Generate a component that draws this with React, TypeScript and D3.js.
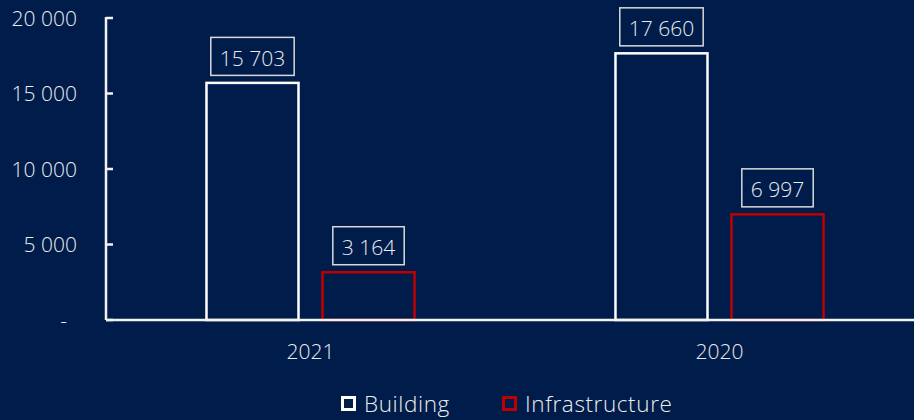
import React, { useEffect, useRef } from "react";
import * as d3 from "d3";

const categories = ["2021", "2020"];
const seriesNames = ["Building", "Infrastructure"];
const buildingValues = [15703, 17660];
const infrastructureValues = [3164, 6997];
const yTicks = [0, 5000, 10000, 15000, 20000];

const W = 914;
const H = 420;
const BG = "#001c4a";
const TEXT = "#ececec";
const COLORS: Record<string, string> = { Building: "#ffffff", Infrastructure: "#c00000" };
const FONT = "'Open Sans', sans-serif";

const fmt = (v: number) => (v === 0 ? "-" : d3.format(",")(v).replace(/,/g, " "));

export default function App() {
  const ref = useRef<SVGSVGElement | null>(null);

  useEffect(() => {
    document.body.style.margin = "0";
    document.body.style.background = BG;
    const svg = d3.select(ref.current!);
    svg.selectAll("*").remove();

    const axisX = 106;
    const y = d3.scaleLinear().domain([0, 20000]).range([320, 18]);
    const x0 = d3.scaleBand<string>().domain(categories).range([axisX, axisX + 818]).padding(0);
    const x1 = d3
      .scaleBand<string>()
      .domain(seriesNames)
      .range([0, x0.bandwidth()])
      .paddingInner(0.2069)
      .paddingOuter(0.866);

    svg.append("rect").attr("width", W).attr("height", H).attr("fill", BG);

    const data = categories.flatMap((c, i) => [
      { cat: c, s: "Building", v: buildingValues[i] },
      { cat: c, s: "Infrastructure", v: infrastructureValues[i] },
    ]);

    // bars
    svg
      .append("g")
      .selectAll("rect")
      .data(data)
      .join("rect")
      .attr("x", (d) => x0(d.cat)! + x1(d.s)!)
      .attr("y", (d) => y(d.v))
      .attr("width", x1.bandwidth())
      .attr("height", (d) => y(0) - y(d.v))
      .attr("fill", "none")
      .attr("stroke", (d) => COLORS[d.s])
      .attr("stroke-width", 2.5);

    // axes
    const ax = svg.append("g").attr("stroke", "#f2f2f2").attr("stroke-width", 2.5);
    ax.append("line").attr("x1", axisX).attr("x2", axisX).attr("y1", y(20000) - 1).attr("y2", y(0));
    ax.append("line").attr("x1", axisX).attr("x2", W).attr("y1", y(0)).attr("y2", y(0));
    ax.selectAll("line.tick")
      .data(yTicks)
      .join("line")
      .attr("class", "tick")
      .attr("x1", axisX)
      .attr("x2", axisX + 7)
      .attr("y1", (d) => y(d))
      .attr("y2", (d) => y(d));

    // y tick labels
    svg
      .append("g")
      .selectAll("text")
      .data(yTicks)
      .join("text")
      .attr("x", (d) => (d === 0 ? 67 : 77))
      .attr("y", (d) => y(d) + 7.5)
      .attr("text-anchor", "end")
      .attr("fill", TEXT)
      .attr("font-family", FONT)
      .attr("font-weight", 300)
      .attr("font-size", 21)
      .text((d) => fmt(d));

    // category labels
    svg
      .append("g")
      .selectAll("text")
      .data(categories)
      .join("text")
      .attr("x", (d) => x0(d)! + x0.bandwidth() / 2)
      .attr("y", 359)
      .attr("text-anchor", "middle")
      .attr("fill", TEXT)
      .attr("font-family", FONT)
      .attr("font-weight", 300)
      .attr("font-size", 21)
      .text((d) => d);

    // value labels with boxes
    const lg = svg.append("g");
    data.forEach((d) => {
      const cx = x0(d.cat)! + x1(d.s)! + x1.bandwidth() / 2;
      const top = y(d.v);
      const g = lg.append("g");
      const rect = g.append("rect");
      const t = g
        .append("text")
        .attr("x", cx)
        .attr("y", top - 17)
        .attr("text-anchor", "middle")
        .attr("fill", TEXT)
        .attr("font-family", FONT)
        .attr("font-weight", 300)
        .attr("font-size", 21)
        .text(fmt(d.v));
      const w = (t.node() as SVGTextElement).getComputedTextLength() + 18;
      rect
        .attr("x", cx - w / 2)
        .attr("y", top - 45.5)
        .attr("width", w)
        .attr("height", 38)
        .attr("fill", "none")
        .attr("stroke", "#d9d9d9")
        .attr("stroke-width", 1.5);
    });

    // legend
    const legendItems = [
      { s: "Building", x: 341 },
      { s: "Infrastructure", x: 502 },
    ];
    const leg = svg.append("g");
    legendItems.forEach((it) => {
      leg
        .append("rect")
        .attr("x", it.x + 1.5)
        .attr("y", 397.5)
        .attr("width", 12)
        .attr("height", 12)
        .attr("fill", "none")
        .attr("stroke", COLORS[it.s])
        .attr("stroke-width", 3);
      leg
        .append("text")
        .attr("x", it.x + 23)
        .attr("y", 412)
        .attr("fill", TEXT)
        .attr("font-family", FONT)
        .attr("font-weight", 300)
        .attr("font-size", 22.5)
        .attr("letter-spacing", 0.6)
        .text(it.s);
    });
  }, []);

  return <svg ref={ref} width={W} height={H} style={{ display: "block" }} />;
}
